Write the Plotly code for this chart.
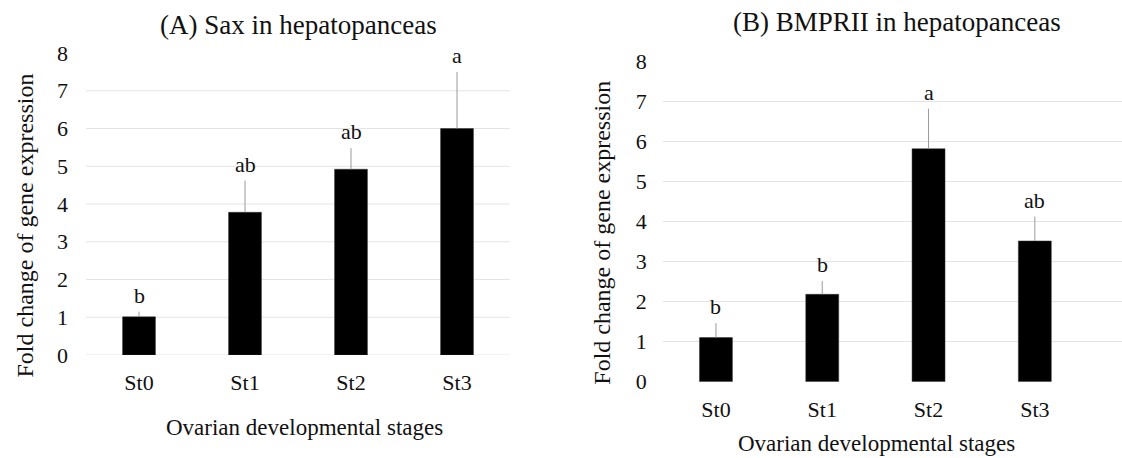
import plotly.graph_objects as go

# Ovarian developmental stages
stages = ["St0", "St1", "St2", "St3"]

# (A) Sax in hepatopanceas: mean fold change and upper error
sax_mean = [1.01, 3.78, 4.92, 6.00]
sax_err = [0.14, 0.84, 0.56, 1.50]
sax_letters = ["b", "ab", "ab", "a"]

# (B) BMPRII in hepatopanceas: mean fold change and upper error
bmp_mean = [1.10, 2.18, 5.81, 3.51]
bmp_err = [0.36, 0.33, 1.00, 0.61]
bmp_letters = ["b", "b", "a", "ab"]

y_ticks = [0, 1, 2, 3, 4, 5, 6, 7, 8]
sax_grid = [0, 1, 2, 3, 4, 5, 6, 7]

FONT = "Liberation Serif, Times New Roman, serif"
W, H = 1122, 458

def px_x(p):
    return p / W

def px_y(p):
    return 1 - p / H

fig = go.Figure()

bar_style = dict(marker=dict(color="#000000", line=dict(color="#333333", width=0.5)),
                 width=0.31, showlegend=False, hoverinfo="skip")
err_style = dict(type="data", symmetric=False, color="#9a9a9a", thickness=1, width=0)

fig.add_trace(go.Bar(x=stages, y=sax_mean, xaxis="x", yaxis="y",
                     error_y=dict(array=sax_err, arrayminus=[0] * 4, **err_style),
                     **bar_style))
fig.add_trace(go.Bar(x=stages, y=bmp_mean, xaxis="x2", yaxis="y2",
                     error_y=dict(array=bmp_err, arrayminus=[0] * 4, **err_style),
                     **bar_style))

tick_font = dict(family=FONT, size=22, color="#111111")
grid_col = "#e4e4e4"

fig.update_layout(
    width=W, height=H,
    margin=dict(l=0, r=0, t=0, b=0, autoexpand=False),
    paper_bgcolor="white", plot_bgcolor="white",
    font=dict(family=FONT, color="#111111"),
    xaxis=dict(domain=[px_x(86), px_x(510)], range=[-0.5, 3.5], anchor="y",
               tickfont=tick_font, showline=False, ticks="", ticklabelstandoff=12,
               automargin=False),
    yaxis=dict(domain=[px_y(355), px_y(53)], range=[0, 8], anchor="x",
               tickvals=y_ticks, tickfont=tick_font, showgrid=False, zeroline=False,
               showline=False, ticks="", ticklabelstandoff=17, automargin=False),
    xaxis2=dict(domain=[px_x(662.8), 1.0], range=[-0.5, 3.82], anchor="y2",
                tickfont=tick_font, showline=False, ticks="", ticklabelstandoff=12,
                automargin=False),
    yaxis2=dict(domain=[px_y(381.7), px_y(61)], range=[0, 8], anchor="x2",
                tickvals=y_ticks, tickfont=tick_font, showgrid=True, gridcolor=grid_col,
                gridwidth=1, zeroline=False, showline=False, ticks="",
                ticklabelstandoff=15, automargin=False),
)

# light horizontal gridlines for panel A (no line at the top tick)
for g in sax_grid:
    fig.add_shape(type="line", xref="x domain", yref="y", x0=0, x1=1, y0=g, y1=g,
                  line=dict(color=grid_col, width=1), layer="below")

ann = []
# significance letters above the error bars
for s, m, e, t in zip(stages, sax_mean, sax_err, sax_letters):
    ann.append(dict(x=s, y=m + e, xref="x", yref="y", text=t, showarrow=False,
                    yanchor="bottom", yshift=2, font=dict(family=FONT, size=22)))
for s, m, e, t in zip(stages, bmp_mean, bmp_err, bmp_letters):
    ann.append(dict(x=s, y=m + e, xref="x2", yref="y2", text=t, showarrow=False,
                    yanchor="bottom", yshift=2, font=dict(family=FONT, size=22)))

# panel titles and axis titles
ann += [
    dict(x=px_x(298.5), y=px_y(25), xref="paper", yref="paper", showarrow=False,
         text="(A) Sax in hepatopanceas", font=dict(family=FONT, size=27),
         xanchor="center", yanchor="middle"),
    dict(x=px_x(896.7), y=px_y(22), xref="paper", yref="paper", showarrow=False,
         text="(B) BMPRII in hepatopanceas", font=dict(family=FONT, size=27),
         xanchor="center", yanchor="middle"),
    dict(x=px_x(25), y=px_y(225.5), xref="paper", yref="paper", showarrow=False,
         text="Fold change of gene expression", textangle=-90,
         font=dict(family=FONT, size=24), xanchor="center", yanchor="middle"),
    dict(x=px_x(601.7), y=px_y(233), xref="paper", yref="paper", showarrow=False,
         text="Fold change of gene expression", textangle=-90,
         font=dict(family=FONT, size=24), xanchor="center", yanchor="middle"),
    dict(x=px_x(304), y=px_y(427), xref="paper", yref="paper", showarrow=False,
         text="Ovarian developmental stages", font=dict(family=FONT, size=23),
         xanchor="center", yanchor="middle"),
    dict(x=px_x(876.7), y=px_y(443), xref="paper", yref="paper", showarrow=False,
         text="Ovarian developmental stages", font=dict(family=FONT, size=23),
         xanchor="center", yanchor="middle"),
]
fig.update_layout(annotations=ann)

fig.write_html("out.html")
